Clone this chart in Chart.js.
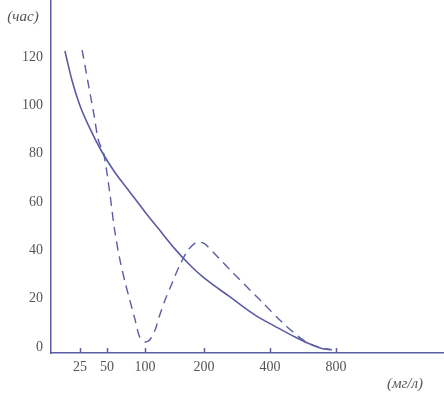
<!DOCTYPE html>
<html>
<head>
<meta charset="utf-8">
<script src="https://cdn.jsdelivr.net/npm/chart.js@4/dist/chart.umd.min.js"></script>
<style>
  body { margin: 0; background: #fff; }
  #wrap { width: 444px; height: 396px; }
</style>
</head>
<body>
<div id="wrap"><canvas id="chart" width="444" height="396"></canvas></div>
<script>
// концентрация (мг/л) -> положение на оси (ось неравномерная)
const concStops = [0, 25, 50, 100, 200, 400, 800];
const axisStops = [0, 2.9, 5.6, 9.4, 15.3, 21.9, 28.5];
const xTickLabels = [25, 50, 100, 200, 400, 800];
const yTicks = [0, 20, 40, 60, 80, 100, 120];

// сплошная кривая
const solidConc = [12, 18, 25, 34, 45, 60, 78, 100, 122, 151, 176, 198, 279, 355, 448, 552, 624, 703, 764];
const solidHours = [122.5, 110.5, 99.8, 90.6, 81, 72.4, 65, 55.9, 49.2, 40.5, 33.9, 29, 20.7, 13.2, 7.9, 4.1, 1.7, -0.4, -1.2];

// пунктирная кривая
const dashConc = [27, 32, 38, 42, 47, 54, 60, 67, 74, 80, 87, 93, 100, 108, 117, 125, 134, 146, 159, 173, 185, 193, 203, 279, 370, 479, 600, 691, 776];
const dashHours = [122.9, 110.5, 96, 85.6, 79.8, 62.9, 48.4, 36, 26.5, 19.4, 11.2, 4.1, 2.1, 2.9, 7, 13.2, 19.4, 26.5, 33.9, 40.1, 43, 43.4, 42.6, 31.9, 19.4, 9.9, 2.9, 0, -1.2];

const lineColor = "#5b5ba6";
const textColor = "#555";

function toAxis(c) {
  for (let i = 1; i < concStops.length; i++) {
    if (c <= concStops[i]) {
      const t = (c - concStops[i - 1]) / (concStops[i] - concStops[i - 1]);
      return axisStops[i - 1] + t * (axisStops[i] - axisStops[i - 1]);
    }
  }
  return axisStops[axisStops.length - 1];
}

const toPoints = (xs, ys) => xs.map((c, i) => ({ x: toAxis(c), y: ys[i] }));

// подписи осей и засечки на оси x
const extras = {
  id: "extras",
  afterDraw(chart) {
    const ctx = chart.ctx;
    const xs = chart.scales.x;
    const bottom = chart.chartArea.bottom;
    ctx.save();
    ctx.strokeStyle = lineColor;
    ctx.lineWidth = 1.5;
    xTickLabels.forEach((c) => {
      const px = Math.round(xs.getPixelForValue(toAxis(c))) + 0.5;
      ctx.beginPath();
      ctx.moveTo(px, bottom);
      ctx.lineTo(px, bottom - 5);
      ctx.stroke();
    });
    ctx.fillStyle = textColor;
    ctx.font = "italic 15px 'Liberation Serif'";
    ctx.textBaseline = "middle";
    ctx.textAlign = "center";
    ctx.fillText("(час)", 23, 17);
    ctx.fillText("(мг/л)", 405, 384);
    ctx.restore();
  },
};

new Chart(document.getElementById("chart"), {
  type: "line",
  data: {
    datasets: [
      {
        data: toPoints(solidConc, solidHours),
        borderColor: lineColor,
        borderWidth: 1.6,
        pointRadius: 0,
        cubicInterpolationMode: "monotone",
        fill: false,
      },
      {
        data: toPoints(dashConc, dashHours),
        borderColor: lineColor,
        borderWidth: 1.4,
        borderDash: [9, 6],
        pointRadius: 0,
        tension: 0.3,
        fill: false,
      },
    ],
  },
  options: {
    responsive: false,
    animation: false,
    layout: { padding: 0, autoPadding: false },
    plugins: {
      legend: { display: false },
      tooltip: { enabled: false },
    },
    scales: {
      x: {
        type: "linear",
        min: 0,
        max: 39.3,
        afterFit: (s) => {
          s.height = 43;
          s.paddingLeft = 0;
          s.paddingRight = 0;
        },
        afterBuildTicks: (s) => {
          s.ticks = xTickLabels.map((c) => ({ value: toAxis(c), label: String(c) }));
        },
        grid: { display: true, drawOnChartArea: false, drawTicks: false },
        border: { display: true, color: lineColor, width: 1.5 },
        ticks: {
          color: textColor,
          font: { family: "Liberation Serif", size: 14 },
          padding: 6,
          autoSkip: false,
          maxRotation: 0,
          callback: (v, i) => String(xTickLabels[i]),
        },
      },
      y: {
        type: "linear",
        min: -2.5,
        max: 143.6,
        afterFit: (s) => {
          s.width = 51;
          s.paddingTop = 0;
          s.paddingBottom = 0;
        },
        afterBuildTicks: (s) => {
          s.ticks = yTicks.map((v) => ({ value: v }));
        },
        grid: { display: true, drawOnChartArea: false, drawTicks: false },
        border: { display: true, color: lineColor, width: 1.5 },
        ticks: {
          color: textColor,
          font: { family: "Liberation Serif", size: 14 },
          padding: 8,
          callback: (v) => String(v),
        },
      },
    },
  },
  plugins: [extras],
});
</script>
</body>
</html>
